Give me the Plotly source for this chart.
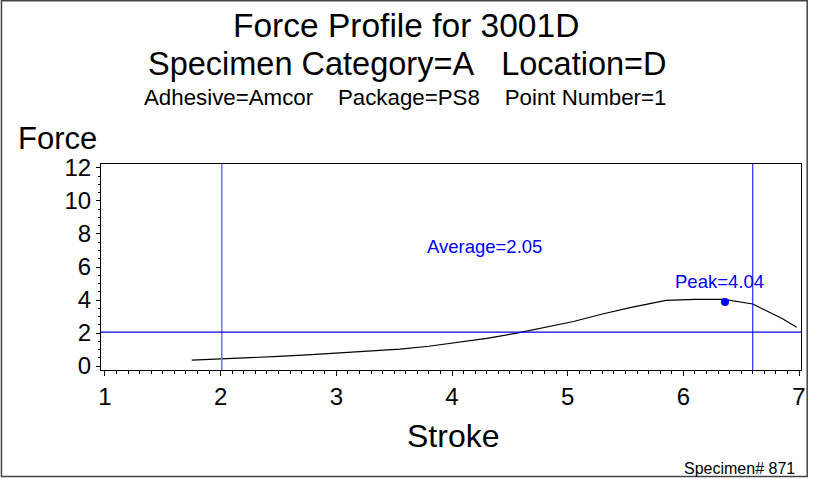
import plotly.graph_objects as go

# ---- data ----
stroke = [1.75, 2.0, 2.25, 2.5, 2.75, 3.0, 3.25, 3.55, 3.8, 4.05, 4.3, 4.55,
          4.8, 5.05, 5.3, 5.55, 5.85, 6.1, 6.35, 6.6, 6.85, 6.98]
force = [0.36, 0.42, 0.48, 0.58, 0.68, 0.80, 0.92, 1.03, 1.20, 1.42, 1.68, 1.98,
         2.33, 2.70, 3.15, 3.55, 3.98, 4.04, 4.04, 3.76, 2.89, 2.35]
peak_x, peak_y = [6.36], [3.88]
average = 2.05
peak_value = 4.04
start_line = 2.01
end_line = 6.6
x_ticks = [1, 2, 3, 4, 5, 6, 7]
y_ticks = [0, 2, 4, 6, 8, 10, 12]

W, H = 813, 479
L, R, T, B = 101, 7, 164, 109
pw, ph = W - L - R, H - T - B

def px(x):
    return (x - L) / pw

def py(y):
    return (H - B - y) / ph

FONT = "Liberation Sans, Arial, sans-serif"

fig = go.Figure()
fig.add_trace(go.Scatter(x=stroke, y=force, mode="lines",
                         line=dict(color="black", width=1.2), hoverinfo="skip"))
fig.add_trace(go.Scatter(x=peak_x, y=peak_y, mode="markers",
                         marker=dict(color="#0000ff", size=8), hoverinfo="skip"))

shapes = [
    dict(type="line", xref="x", yref="paper", x0=start_line, x1=start_line, y0=0, y1=1,
         line=dict(color="#7070ff", width=1.5)),
    dict(type="line", xref="x", yref="paper", x0=end_line, x1=end_line, y0=0, y1=1,
         line=dict(color="#0000ff", width=1)),
    dict(type="line", xref="paper", yref="y", x0=0, x1=1, y0=average, y1=average,
         line=dict(color="#0000ff", width=1.2)),
    # outer frame
    dict(type="rect", xref="paper", yref="paper", x0=px(0.75), x1=px(812.25),
         y0=py(476.5), y1=py(0.75), line=dict(color="#444444", width=1.5), layer="below"),
]

def ann(text, x, y, size, xanchor="center", color="black"):
    return dict(text=text, x=px(x), y=py(y), xref="paper", yref="paper",
                xanchor=xanchor, yanchor="middle", showarrow=False,
                font=dict(size=size, color=color, family=FONT))

annotations = [
    ann("Force Profile for 3001D", 408, 25, 33.5),
    ann("Specimen Category=A&nbsp;&nbsp;&nbsp;Location=D", 410, 64, 32.5),
    ann("Adhesive=Amcor&nbsp;&nbsp;&nbsp;&nbsp;Package=PS8&nbsp;&nbsp;&nbsp;&nbsp;Point Number=1", 407, 98, 22.3),
    ann("Force", 15, 138, 31, xanchor="left"),
    ann("Stroke", 456, 436, 32),
    ann("Specimen# 871", 802, 468, 16, xanchor="right"),
    ann("Average=" + f"{average:.2f}", 487.5, 246, 18.5, color="#0000ff"),
    ann("Peak=" + f"{peak_value:.2f}", 724, 281, 18.5, color="#0000ff"),
]

fig.update_layout(
    width=W, height=H, autosize=False,
    margin=dict(l=L, r=R, t=T, b=B, pad=0),
    paper_bgcolor="white", plot_bgcolor="white",
    showlegend=False,
    shapes=shapes, annotations=annotations,
    font=dict(family=FONT, color="black"),
)
fig.update_xaxes(range=[0.9655, 7.017], tickvals=x_ticks, ticks="outside", ticklen=5,
                 tickcolor="black", showline=True, linecolor="black", linewidth=1, mirror=True,
                 showgrid=False, zeroline=False, tickfont=dict(size=24, family=FONT),
                 ticklabeloverflow="allow",
                 minor=dict(dtick=0.1, tick0=1, ticks="outside", ticklen=3, tickcolor="black"))
fig.update_yaxes(range=[-0.24, 12.24], tickvals=y_ticks, ticks="outside", ticklen=4,
                 tickcolor="black", showline=True, linecolor="black", linewidth=1, mirror=True,
                 showgrid=False, zeroline=False, tickfont=dict(size=24, family=FONT),
                 ticklabeloverflow="allow",
                 minor=dict(dtick=0.5, tick0=0, ticks="outside", ticklen=2, tickcolor="black"))

fig.write_html("out.html",
               config={"displayModeBar": False, "responsive": False},
               post_script="document.body.style.margin='0';document.body.style.overflow='hidden';"
                           "document.documentElement.style.overflow='hidden';")
